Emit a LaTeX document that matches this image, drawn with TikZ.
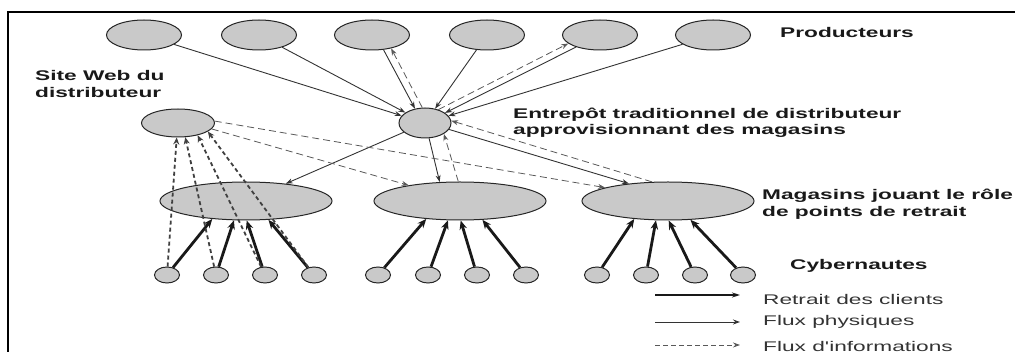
\documentclass[tikz,border=0pt]{standalone}
\usepackage{fontspec}
\usepackage{xcolor}
\usepackage{tikz}
\usetikzlibrary{shapes.geometric,arrows.meta}
\newfontfamily\lblfont[FakeStretch=1.62]{Liberation Sans}
\tikzstyle{every node}=[inner sep=0pt]
\tikzstyle{blob}=[ellipse,draw=black!85,line width=1pt,fill=gray!42]
\tikzstyle{producer}=[blob,minimum width=75pt,minimum height=30pt]
\tikzstyle{depot}=[blob,minimum width=52pt,minimum height=30pt]
\tikzstyle{website}=[blob,minimum width=73pt,minimum height=28pt]
\tikzstyle{shop}=[blob,minimum width=172pt,minimum height=38pt]
\tikzstyle{surfer}=[blob,minimum width=25pt,minimum height=16pt]
\tikzstyle{caption}=[anchor=west,align=left,text=black!90,font={\lblfont\bfseries\fontsize{14pt}{16.5pt}\selectfont}]
\tikzstyle{keytext}=[anchor=west,text=black!80,font={\lblfont\fontsize{14pt}{16.5pt}\selectfont}]
\tikzstyle{physical}=[draw=black!80,line width=0.9pt,-{Stealth[length=7pt,width=5pt]}]
\tikzstyle{info}=[draw=black!65,line width=0.8pt,dash pattern=on 7pt off 4pt,-{Stealth[length=7pt,width=5pt]}]
\tikzstyle{webinfo}=[draw=black!75,line width=1.8pt,dash pattern=on 4pt off 3pt,-{Stealth[length=7pt,width=6pt]}]
\tikzstyle{pickup}=[draw=black!90,line width=2.8pt,-{Stealth[length=9pt,width=7.5pt]}]

\begin{document}
\begin{tikzpicture}[x=1pt,y=-1pt]
	\useasboundingbox (0,0) rectangle (1015,352);
	\draw[line width=2.5pt] (8,352) -- (8,12) -- (1015,12);

	\foreach \i/\x in {1/144,2/259,3/372,4/487,5/600,6/713}
		\node[producer] (p\i) at (\x,35) {};
	\node[depot] (wh) at (425,123) {};
	\node[website] (web) at (178,123) {};
	\node[shop] (s1) at (246,201) {};
	\node[shop] (s2) at (460,201) {};
	\node[shop] (s3) at (668,201) {};
	\foreach \s/\xs in {1/{167,216,265,314},2/{378,428,477,526},3/{597,646,695,743}}
		\foreach \x [count=\k] in \xs
			\node[surfer] (c\s\k) at (\x,275) {};

	\node[caption] (lprod) at (780,33) {Producteurs};
	\node[caption] (lweb) at (35,84) {Site Web du\\distributeur};
	\node[caption] (ldepot) at (513,123) {Entrepôt traditionnel de distributeur\\approvisionnant des magasins};
	\node[caption] (lshop) at (762,204) {Magasins jouant le rôle\\de points de retrait};
	\node[caption] (lsurf) at (790,266) {Cybernautes};

	\foreach \i in {1,2,4,5,6}
		\draw[physical] (p\i) -- (wh);
	\draw[physical] (p3.308) -- (wh.125);
	\draw[info] (wh.100) -- (p3.325);
	\draw[info] (wh.45) -- (p5.195);

	\draw[physical] (wh) -- (s1);
	\draw[physical] (wh.285) -- (s2.137);
	\draw[info] (s2.95) -- (wh.330);
	\draw[physical] (wh.345) -- (s3.156);
	\draw[info] (s3.130) -- (wh.5);
	\draw[info] (web.350) -- (s2.163);
	\draw[info] (web.3) -- (s3.168);

	\foreach \s in {1,2,3}
		\foreach \a [count=\k] in {208,238,272,320}
			\draw[pickup] (c\s\k) -- (s\s.\a);
	\foreach \a [count=\k] in {265,297,328,344}
		\draw[webinfo] (c1\k) -- (web.\a);

	\coordinate (k1a) at (655,295);
	\coordinate (k1b) at (740,295);
	\coordinate (k2a) at (655,322);
	\coordinate (k2b) at (740,322);
	\coordinate (k3a) at (655,345);
	\coordinate (k3b) at (740,345);
	\draw[pickup,line width=2.4pt,-{Stealth[length=8pt,width=5pt]}] (k1a) -- (k1b);
	\draw[physical] (k2a) -- (k2b);
	\draw[info,dash pattern=on 5pt off 3pt] (k3a) -- (k3b);
	\node[keytext] (k1) at (763,299) {Retrait des clients};
	\node[keytext] (k2) at (763,322) {Flux physiques};
	\node[keytext] (k3) at (763,346) {Flux d'informations};
\end{tikzpicture}
\end{document}
